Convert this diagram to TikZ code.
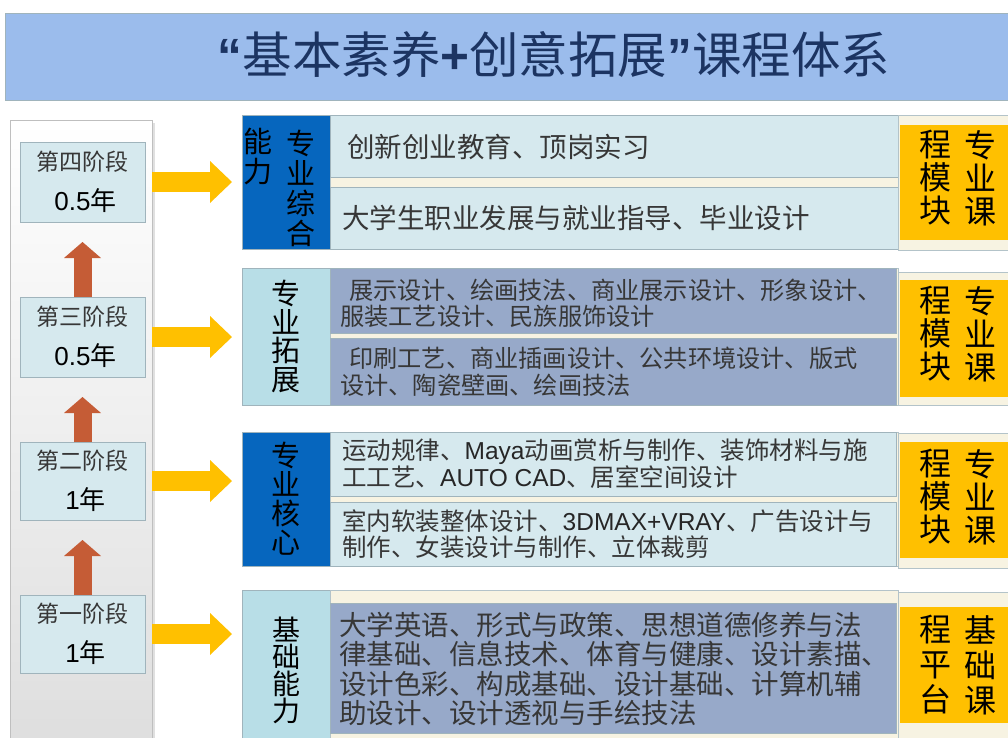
\documentclass[tikz,border=0pt]{standalone}
\usepackage{fontspec}
\setmainfont{Noto Sans CJK SC}
\newfontfamily\lat{Liberation Sans}
\usetikzlibrary{arrows.meta,calc}
\definecolor{titlebg}{RGB}{155,188,236}
\definecolor{titlefg}{RGB}{28,52,98}
\definecolor{darkcat}{RGB}{6,102,190}
\definecolor{lightcat}{RGB}{184,222,231}
\definecolor{lightbox}{RGB}{214,233,238}
\definecolor{greybox}{RGB}{151,169,201}
\definecolor{creambg}{RGB}{247,243,226}
\definecolor{orangebg}{RGB}{255,192,0}
\definecolor{arrY}{RGB}{255,192,0}
\definecolor{arrB}{RGB}{197,92,54}
\definecolor{edge}{RGB}{160,180,188}
\definecolor{txt}{RGB}{55,55,55}
\tikzset{
  rect/.style={anchor=north west, inner sep=0pt, outer sep=0pt},
  stagebox/.style={rect, fill=lightbox, draw=edge, line width=0.8pt, align=center,
     font=\fontsize{23}{40}\selectfont, text=txt},
  darkcatbox/.style={rect, fill=darkcat, draw=edge, line width=0.8pt},
  lightcatbox/.style={rect, fill=lightcat, draw=edge, line width=0.8pt},
  creambox/.style={rect, fill=creambg, draw=edge!80, line width=0.6pt},
  lbox/.style={rect, fill=lightbox, draw=edge, line width=0.8pt},
  gbox/.style={rect, fill=greybox, draw=edge, line width=0.8pt},
  obox/.style={rect, fill=orangebg},
  cattext/.style={align=center, inner sep=0pt, text=black},
  otext/.style={align=center, inner sep=0pt, text=black, font=\fontsize{32}{33}\selectfont},
  ctext/.style={anchor=west, align=left, inner sep=0pt, text=txt},
  yarr/.style={draw=arrY, line width=20pt, shorten <=7pt, shorten >=10pt,
     -{Triangle[length=22pt,width=42pt,line width=0pt]}},
  barr/.style={draw=arrB, line width=18pt, shorten >=20pt,
     -{Triangle[length=16pt,width=37pt,line width=0pt]}},
}
\newcommand\yrs[1]{\hspace{6pt}{\color{black}\fontsize{26}{40}\selectfont{\lat #1}年}}
\begin{document}
\begin{tikzpicture}[x=1pt,y=-1pt]
\useasboundingbox (0,0) rectangle (1008,737);
\clip (0,0) rectangle (1008,737);
\fill[white] (0,0) rectangle (1008,737);
% title
\node[rect, fill=titlebg, draw=edge, line width=0.8pt, minimum width=1010pt, minimum height=87pt] (tb) at (5,13) {};
\node[text=titlefg, font=\fontsize{49.5}{52}\selectfont, inner sep=0pt] (title) at (554,55) {{\lat\bfseries “}基本素养{\lat\bfseries +}创意拓展{\lat\bfseries ”}课程体系};
% left panel
\fill[black!12] (13,123) rectangle (155,740);
\node[rect, top color=white, bottom color=black!13, draw=black!25, line width=0.8pt, minimum width=142pt, minimum height=630pt] (panel) at (10,120) {};
% stage boxes
\node[stagebox, minimum width=125pt, minimum height=80pt] (s4) at (20,142) {第四阶段\\ \yrs{0.5}};
\node[stagebox, minimum width=125pt, minimum height=80pt] (s3) at (20,297) {第三阶段\\ \yrs{0.5}};
\node[stagebox, minimum width=125pt, minimum height=78pt] (s2) at (20,442) {第二阶段\\ \yrs{1}};
\node[stagebox, minimum width=125pt, minimum height=78pt] (s1) at (20,595) {第一阶段\\ \yrs{1}};
% category boxes
\node[darkcatbox, minimum width=88pt, minimum height=134pt] (c1) at (242,115) {};
\node[cattext, font=\fontsize{29}{30}\selectfont] (c1a) at (258,157) {能\\力};
\node[cattext, font=\fontsize{29}{30}\selectfont] (c1b) at (301,188) {专\\业\\综\\合};
\node[lightcatbox, minimum width=88pt, minimum height=137pt, font=\fontsize{29}{28.5}\selectfont, align=center] (c2) at (242,268) {专\\业\\拓\\展};
\node[darkcatbox, minimum width=88pt, minimum height=134pt, font=\fontsize{29}{29}\selectfont, align=center] (c3) at (242,432) {专\\业\\核\\心};
\node[lightcatbox, minimum width=88pt, minimum height=160pt, font=\fontsize{28}{27}\selectfont, align=center] (c4) at (242,590) {基\\础\\能\\力};
% content backgrounds
\node[creambox, minimum width=568pt, minimum height=134pt] (k1) at (330,115) {};
\node[creambox, minimum width=568pt, minimum height=137pt] (k2) at (330,268) {};
\node[creambox, minimum width=568pt, minimum height=134pt] (k3) at (330,432) {};
\node[creambox, minimum width=568pt, minimum height=160pt] (k4) at (330,590) {};
\node[lbox, minimum width=568pt, minimum height=62pt] (r1a) at (330,115) {};
\node[lbox, minimum width=568pt, minimum height=62pt] (r1b) at (330,187) {};
\node[gbox, minimum width=566pt, minimum height=65pt] (r2a) at (330,268) {};
\node[gbox, minimum width=566pt, minimum height=67pt] (r2b) at (330,338) {};
\node[lbox, minimum width=566pt, minimum height=64pt] (r3a) at (330,432) {};
\node[lbox, minimum width=566pt, minimum height=64pt] (r3b) at (330,502) {};
\node[gbox, minimum width=566pt, minimum height=130pt] (r4) at (330,603) {};
% content texts
\node[ctext, font=\fontsize{27.5}{30}\selectfont] (t1a) at (347,147) {创新创业教育、顶岗实习};
\node[ctext, font=\fontsize{27.5}{30}\selectfont] (t1b) at (342,218) {大学生职业发展与就业指导、毕业设计};
\node[ctext, font=\fontsize{24.2}{26}\selectfont] (t2a) at (340,303) {\hspace{9pt}展示设计、绘画技法、商业展示设计、形象设计、\\服装工艺设计、民族服饰设计};
\node[ctext, font=\fontsize{24.2}{27}\selectfont] (t2b) at (340,372) {\hspace{9pt}印刷工艺、商业插画设计、公共环境设计、版式\\设计、陶瓷壁画、绘画技法};
\node[ctext, font=\fontsize{24.5}{25.5}\selectfont] (t3a) at (342,464) {运动规律、{\lat\color{black!85}Maya}动画赏析与制作、装饰材料与施\\工工艺、{\lat\color{black!85}AUTO CAD}、居室空间设计};
\node[ctext, font=\fontsize{24.5}{25.5}\selectfont] (t3b) at (342,534) {室内软装整体设计、{\lat\color{black!85}3DMAX+VRAY}、广告设计与\\制作、女装设计与制作、立体裁剪};
\node[ctext, font=\fontsize{27.5}{29.5}\selectfont] (t4) at (339,669) {大学英语、形式与政策、思想道德修养与法\\律基础、信息技术、体育与健康、设计素描、\\设计色彩、构成基础、设计基础、计算机辅\\助设计、设计透视与手绘技法};
% right column
\node[creambox, minimum width=112pt, minimum height=135pt] (o1) at (898,115) {};
\node[creambox, minimum width=112pt, minimum height=133pt] (o2) at (898,272) {};
\node[creambox, minimum width=112pt, minimum height=135pt] (o3) at (898,433) {};
\node[creambox, minimum width=112pt, minimum height=160pt] (o4) at (898,592) {};
\node[obox, minimum width=110pt, minimum height=115pt] (q1) at (900,125) {};
\node[obox, minimum width=110pt, minimum height=117pt] (q2) at (900,280) {};
\node[obox, minimum width=110pt, minimum height=116pt] (q3) at (900,442) {};
\node[obox, minimum width=110pt, minimum height=116pt] (q4) at (900,607) {};
\node[otext] (q1l) at (935,178) {程\\模\\块};
\node[otext] (q1r) at (980,178) {专\\业\\课};
\node[otext] (q2l) at (935,334) {程\\模\\块};
\node[otext] (q2r) at (980,334) {专\\业\\课};
\node[otext] (q3l) at (935,497) {程\\模\\块};
\node[otext] (q3r) at (980,497) {专\\业\\课};
\node[otext, font=\fontsize{32}{35}\selectfont] (q4l) at (935,665) {程\\平\\台};
\node[otext, font=\fontsize{32}{35}\selectfont] (q4r) at (980,665) {基\\础\\课};
% yellow arrows
\draw[yarr] (s4.east) -- (s4.east -| c1.west);
\draw[yarr] (s3.east) -- (s3.east -| c2.west);
\draw[yarr] (s2.east) -- (s2.east -| c3.west);
\draw[yarr] (s1.east) -- (s1.east -| c4.west);
% brown arrows
\draw[barr] (s3.north) -- (s4.south);
\draw[barr] (s2.north) -- (s3.south);
\draw[barr] (s1.north) -- (s2.south);
\end{tikzpicture}
\end{document}
